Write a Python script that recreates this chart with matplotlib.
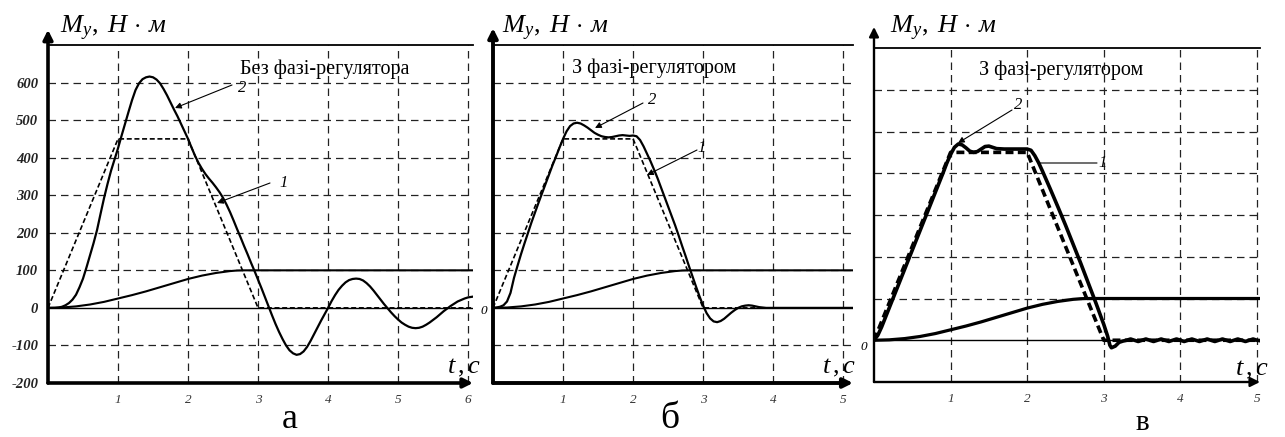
import matplotlib
matplotlib.use("Agg")
import matplotlib.pyplot as plt
from matplotlib.patches import FancyArrowPatch

plt.rcParams['mathtext.fontset'] = 'custom'
plt.rcParams['mathtext.it'] = 'Liberation Serif:italic'
plt.rcParams['mathtext.rm'] = 'Liberation Serif'
plt.rcParams['font.family'] = ['Liberation Serif', 'DejaVu Serif']

# ---------------- data ----------------
y_label = r'$M_{у},\ Н\,\cdot\,м$'
x_label = r'$t\,,c$'
titles = ['Без фазі-регулятора', 'З фазі-регулятором', 'З фазі-регулятором']
letters = ['а', 'б', 'в']

y_ticks_a = [-200, -100, 0, 100, 200, 300, 400, 500, 600]
x_ticks_a = [1, 2, 3, 4, 5, 6]
x_ticks_bc = [1, 2, 3, 4, 5]

# reference trapezoid (dashed)
ref_t_a = [0, 1, 2, 3, 6.07]
ref_v_a = [0, 450, 450, 0, 0]
ref_t_b = [0, 1, 2, 3, 5.14]
ref_v_b = [0, 450, 450, 0, 0]
ref_t_c = [0, 1, 2, 3, 5.04]
ref_v_c = [0, 450, 450, 0, 0]

# slow curve (same in every panel)
slow_t = [0, 0.2, 0.4, 0.6, 0.8, 1.0, 1.2, 1.4, 1.6, 1.8, 2.0, 2.2, 2.4, 2.6, 2.7, 2.8, 6.1]
slow_v = [0, 1, 4, 9, 16, 25, 34, 44, 55, 66, 77, 86, 93, 98, 99.5, 100, 100]

# panel a, curve 2
a_t = [0, 0.1, 0.15, 0.2, 0.25, 0.3, 0.35, 0.4, 0.45, 0.5, 0.55, 0.6, 0.65, 0.7, 0.75,
       0.8, 0.85, 0.9, 0.95, 1.0, 1.05, 1.1, 1.15, 1.2, 1.25, 1.3, 1.35, 1.4, 1.45, 1.5,
       1.55, 1.6, 1.65, 1.7, 1.75, 1.8, 1.85, 1.9, 1.95, 2.0, 2.05, 2.1, 2.15, 2.2, 2.25,
       2.3, 2.35, 2.4, 2.45, 2.5, 2.55, 2.6, 2.65, 2.7, 2.75, 2.8, 2.85, 2.9, 2.95, 3.0,
       3.05, 3.1, 3.15, 3.2, 3.25, 3.3, 3.35, 3.4, 3.45, 3.5, 3.55, 3.6, 3.65, 3.7, 3.75,
       3.8, 3.85, 3.9, 3.95, 4.0, 4.05, 4.1, 4.15, 4.2, 4.25, 4.3, 4.35, 4.4, 4.45, 4.5,
       4.55, 4.6, 4.65, 4.7, 4.75, 4.8, 4.85, 4.9, 4.95, 5.0, 5.05, 5.1, 5.15, 5.2, 5.25,
       5.3, 5.35, 5.4, 5.45, 5.5, 5.55, 5.6, 5.65, 5.7, 5.75, 5.8, 5.85, 5.9, 5.95, 6.0, 6.07]
a_v = [0, 0, 1, 3, 7, 13, 22, 35, 55, 78, 108, 140, 172, 207, 250,
       292, 330, 365, 395, 425, 458, 490, 522, 553, 580, 598, 609, 614, 616, 614,
       608, 598, 583, 566, 547, 528, 510, 490, 470, 450, 427, 405, 386, 370, 356,
       344, 333, 321, 308, 293, 275, 255, 233, 210, 188, 165, 143, 120, 98, 75,
       52, 28, 4, -20, -43, -64, -83, -100, -113, -121, -125, -123, -116, -104, -88,
       -70, -52, -34, -17, 0, 18, 34, 48, 59, 68, 74, 77, 78, 77, 73,
       66, 57, 46, 34, 22, 10, -1, -12, -22, -31, -39, -45, -50, -53, -54,
       -53, -50, -45, -39, -32, -25, -17, -9, -2, 5, 11, 17, 21, 25, 28, 30]

# panel б, curve 2
b_t = [0, 0.05, 0.1, 0.15, 0.2, 0.25, 0.3, 0.35, 0.4, 0.45, 0.5, 0.55, 0.6, 0.65, 0.7,
       0.75, 0.8, 0.85, 0.9, 0.95, 1.0, 1.05, 1.1, 1.15, 1.2, 1.25, 1.3, 1.35, 1.4, 1.45,
       1.5, 1.55, 1.6, 1.65, 1.7, 1.75, 1.8, 1.85, 1.9, 1.95, 2.0, 2.05, 2.1, 2.15, 2.2,
       2.25, 2.3, 2.35, 2.4, 2.45, 2.5, 2.55, 2.6, 2.65, 2.7, 2.75, 2.8, 2.85, 2.9, 2.95,
       3.0, 3.05, 3.1, 3.15, 3.2, 3.25, 3.3, 3.35, 3.4, 3.45, 3.5, 3.55, 3.6, 3.65, 3.7,
       3.75, 3.8, 3.85, 3.9, 5.14]
b_v = [0, 1, 3, 7, 17, 40, 80, 112, 143, 172, 200, 228, 254, 280, 305,
       330, 355, 380, 403, 427, 450, 470, 484, 491, 493, 491, 486, 480, 473, 466,
       461, 457, 455, 454, 455, 457, 459, 460, 459, 458, 459, 457, 447, 430, 410,
       390, 368, 345, 320, 295, 270, 245, 220, 193, 165, 138, 110, 83, 56, 30,
       6, -14, -28, -36, -38, -35, -29, -21, -13, -6, 0, 4, 6, 7, 6,
       4, 2, 1, 0, 0]

# panel в, curve 2
c_t = [0, 0.05, 0.1, 0.2, 0.3, 0.4, 0.5, 0.6, 0.7, 0.8, 0.9, 0.95, 1.0, 1.05, 1.1,
       1.15, 1.2, 1.25, 1.3, 1.35, 1.4, 1.45, 1.5, 1.55, 1.6, 1.7, 1.8, 1.9, 2.0, 2.05,
       2.1, 2.15, 2.2, 2.3, 2.4, 2.5, 2.6, 2.7, 2.8, 2.9, 3.0, 3.05, 3.08, 3.1, 3.15,
       3.2, 3.25, 3.3, 3.35, 3.4, 3.45, 3.5, 3.55, 3.6, 3.65, 3.7, 3.75, 3.8, 3.85, 3.9,
       3.95, 4.0, 4.05, 4.1, 4.15, 4.2, 4.25, 4.3, 4.35, 4.4, 4.45, 4.5, 4.55, 4.6, 4.65,
       4.7, 4.75, 4.8, 4.85, 4.9, 4.95, 5.0, 5.04]
c_v = [0, 12, 32, 78, 124, 170, 216, 262, 308, 354, 400, 424, 445, 462, 470,
       468, 461, 453, 450, 452, 458, 464, 465, 462, 459, 458, 458, 458, 458, 455,
       442, 425, 405, 363, 320, 276, 230, 184, 136, 88, 38, 10, -12, -18, -14,
       -5, -2, 0, 3, 0, -3, 0, 3, 0, -3, 0, 3, 0, -3, 0,
       3, 0, -3, 0, 3, 0, -3, 0, 3, 0, -3, 0, 3, 0, -3,
       0, 3, 0, -3, 0, 3, 0, -1]

# ---------------- layout ----------------
W, H = 1285, 437
fig = plt.figure(figsize=(W / 100, H / 100), dpi=100)


def px_axes(left, right, top, bottom):
    return fig.add_axes([left / W, 1 - bottom / H, (right - left) / W, (bottom - top) / H])


def fx(x):
    return x / W


def fy(y):
    return 1 - y / H


GRID = dict(color='#222222', lw=0.9, ls=(0, (6, 4)), zorder=1)
tick_font = dict(family='Liberation Serif', style='italic', weight='bold', size=10.5)
xtick_font = dict(family='Liberation Serif', style='italic', size=9.5)


def setup(ax, xmax, ymin, ymax, yg, xg, lw_axis, tip, ticks_y):
    ax.set_xlim(0, xmax)
    ax.set_ylim(ymin, ymax)
    for s in ['left', 'bottom', 'right']:
        ax.spines[s].set_visible(False)
    ax.spines['top'].set_linewidth(1.3)
    for v in yg:
        ax.axhline(v, **GRID)
    for v in xg:
        ax.axvline(v, **GRID)
    ax.axhline(0, color='k', lw=1.0, zorder=2)
    ax.annotate('', xy=(1.0, 0), xytext=(0, 0), xycoords='axes fraction',
                arrowprops=dict(arrowstyle='-|>', lw=lw_axis, color='k',
                                mutation_scale=14, shrinkA=0, shrinkB=0), annotation_clip=False)
    ax.annotate('', xy=(0, tip), xytext=(0, 0), xycoords='axes fraction',
                arrowprops=dict(arrowstyle='-|>', lw=lw_axis, color='k',
                                mutation_scale=14, shrinkA=0, shrinkB=0), annotation_clip=False)
    ax.set_xticks(xg)
    ax.set_xticklabels([str(v) for v in xg], **xtick_font, color='#333333')
    ax.tick_params(axis='x', length=0, pad=8)
    if ticks_y:
        ax.set_yticks(ticks_y)
        ax.set_yticklabels([str(v) for v in ticks_y], **tick_font, color='#222222')
        ax.tick_params(axis='y', length=0, pad=7)
    else:
        ax.set_yticks([])


# ---- panel а ----
axa = px_axes(48, 473, 45, 383)
setup(axa, 6.07, -200, 700, [-100, 100, 200, 300, 400, 500, 600], x_ticks_a, 2.6, 1.045, y_ticks_a)
axa.plot(ref_t_a, ref_v_a, color='k', lw=1.2, ls=(0, (3, 1.6)), zorder=3)
axa.plot(slow_t, slow_v, color='k', lw=1.5, zorder=4)
axa.plot(a_t, a_v, color='k', lw=1.6, zorder=5)

# ---- panel б ----
axb = px_axes(493, 853, 45, 383)
setup(axb, 5.14, -200, 700, [-100, 100, 200, 300, 400, 500, 600], x_ticks_bc, 2.8, 1.05, None)
axb.plot(ref_t_b, ref_v_b, color='k', lw=1.2, ls=(0, (3, 1.6)), zorder=3)
axb.plot(slow_t, slow_v, color='k', lw=1.5, zorder=4)
axb.plot(b_t, b_v, color='k', lw=1.6, zorder=5)
fig.text(fx(484), fy(311), '0', ha='center', va='center', **xtick_font)

# ---- panel в ----
axc = px_axes(874, 1260, 48, 382)
setup(axc, 5.04, -100, 700, [100, 200, 300, 400, 500, 600], x_ticks_bc, 1.7, 1.063, None)
axc.plot(slow_t, slow_v, color='k', lw=2.3, zorder=4)
axc.plot(c_t, c_v, color='k', lw=2.6, zorder=5)
axc.plot(ref_t_c, ref_v_c, color='k', lw=2.6, ls=(0, (2.2, 1.2)), zorder=6)
fig.text(fx(864), fy(347), '0', ha='center', va='center', **xtick_font)

# ---- axis labels ----
for x in (60, 502, 890):
    fig.text(fx(x), fy(33), y_label, fontsize=19, ha='left', va='baseline')
for x, y in ((447, 373), (822, 373), (1235, 375)):
    fig.text(fx(x), fy(y), x_label, fontsize=19, ha='left', va='baseline')

# ---- titles ----
for (x, y), t in zip(((325, 74), (654, 73), (1061, 75)), titles):
    fig.text(fx(x), fy(y), t, fontsize=14.5, ha='center', va='baseline')

# ---- letters ----
for (x, s), t in zip(((290, 26), (670, 27), (1142, 21)), letters):
    fig.text(fx(x), fy(436.5), t, fontsize=s, ha='center', va='bottom')

# ---- curve labels with arrows ----
arrow = dict(arrowstyle='-|>', lw=0.8, color='k', mutation_scale=9, shrinkA=0, shrinkB=0)
line = dict(arrowstyle='-', lw=0.8, color='k', shrinkA=0, shrinkB=0)
num_font = dict(family='Liberation Serif', style='italic', size=12)


def label(num, txy, start, end, props):
    fig.text(fx(txy[0]), fy(txy[1]), num, ha='center', va='center', **num_font)
    fig.add_artist(FancyArrowPatch(
        (fx(start[0]), fy(start[1])), (fx(end[0]), fy(end[1])),
        transform=fig.transFigure, **props))


label('2', (242, 88), (232, 85), (175, 108), arrow)
label('1', (284, 183), (270, 183), (217, 203), arrow)
label('2', (652, 100), (643, 103), (595, 128), arrow)
label('1', (702, 148), (697, 150), (647, 175), arrow)
label('2', (1018, 105), (1012, 110), (958, 143), arrow)
label('1', (1103, 163), (1097, 163), (1040, 163), line)

fig.savefig('out.png', dpi=100)
